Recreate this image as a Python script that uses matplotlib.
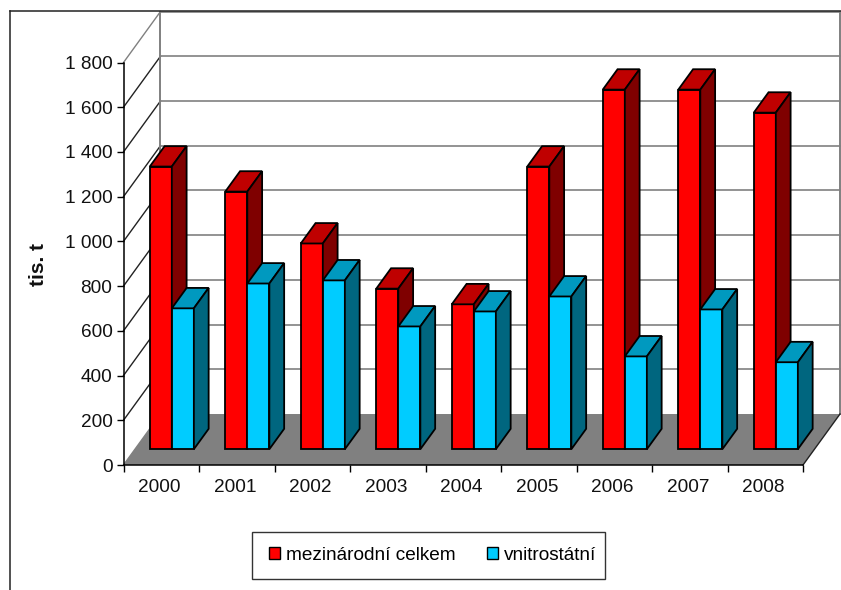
import matplotlib
matplotlib.use('Agg')
import matplotlib.pyplot as plt
from matplotlib.lines import Line2D
from matplotlib.patches import Patch, Polygon, Rectangle

plt.rcParams['font.family'] = ['Liberation Sans', 'DejaVu Sans']

years = ['2000', '2001', '2002', '2003', '2004', '2005', '2006', '2007', '2008']
mezinarodni = [1264, 1152, 920, 718, 648, 1264, 1608, 1608, 1505]
vnitrostatni = [630, 741, 755, 549, 616, 683, 415, 625, 389]
y_ticks = [0, 200, 400, 600, 800, 1000, 1200, 1400, 1600, 1800]
y_labels = ['0', '200', '400', '600', '800', '1 000', '1 200', '1 400', '1 600', '1 800']
names = ['mezinárodní celkem', 'vnitrostátní']

W, H = 841, 590
FONT = 13.7

# 3D look: how far the back wall is shifted, in data units
WALL_DX = 0.49
WALL_DY = 228
BAR_DEPTH_START = 0.31
BAR_DEPTH_END = 0.71
BAR_W = 0.292

RED = ('#FF0000', '#BF0000', '#7F0000')
BLUE = ('#00CCFF', '#0099BF', '#00667F')


def shift(x, v, d):
    return (x + d * WALL_DX, v + d * WALL_DY)


def draw_bar(ax, left, value, colors, z):
    a = BAR_DEPTH_START
    b = BAR_DEPTH_END
    right = left + BAR_W
    front = [shift(left, 0, a), shift(right, 0, a), shift(right, value, a), shift(left, value, a)]
    top = [shift(left, value, a), shift(right, value, a), shift(right, value, b), shift(left, value, b)]
    side = [shift(right, 0, a), shift(right, 0, b), shift(right, value, b), shift(right, value, a)]
    for pts, c in zip([front, top, side], colors):
        ax.add_patch(Polygon(pts, closed=True, facecolor=c, edgecolor='black',
                             linewidth=1.3, joinstyle='miter', clip_on=False, zorder=z))


fig = plt.figure(figsize=(W / 100, H / 100), dpi=100)
ax = fig.add_axes([123.5 / W, (H - 465) / H, (803 - 123.5) / W, (465 - 62.5) / H])
ax.patch.set_alpha(0)
ax.set_xlim(0, len(years))
ax.set_ylim(0, 1800)

# chart frame
fig.add_artist(Line2D([10 / W, 10 / W], [0, 1 - 11 / H], color='#222222', lw=1.1))
fig.add_artist(Line2D([10 / W, 1], [1 - 11 / H, 1 - 11 / H], color='#222222', lw=1.1))

n = len(years)
# floor
ax.add_patch(Polygon([shift(0, 0, 0), shift(n, 0, 0), shift(n, 0, 1), shift(0, 0, 1)], closed=True,
                     facecolor='#808080', edgecolor='none', clip_on=False, zorder=1))
ax.plot(*zip(shift(n, 0, 0), shift(n, 0, 1)), color='#222222', lw=1, clip_on=False, zorder=1.5)

# walls and gridlines
for t in y_ticks:
    col = '#808080' if t == y_ticks[-1] or t == 0 else '#222222'
    ax.plot(*zip(shift(0, t, 0), shift(0, t, 1)), color=col, lw=1, clip_on=False, zorder=1.2)
    if t > 0:
        ax.plot(*zip(shift(0, t, 1), shift(n, t, 1)), color='#808080', lw=1.2, clip_on=False, zorder=1.2)
for x in [0, n]:
    ax.plot(*zip(shift(x, 0, 1), shift(x, 1800, 1)), color='#808080', lw=1.4, clip_on=False, zorder=1.2)

# bars
for i in range(n):
    left = i + 0.488 - BAR_W
    draw_bar(ax, left, mezinarodni[i], RED, 3 + i * 0.1)
    draw_bar(ax, left + BAR_W, vnitrostatni[i], BLUE, 3.05 + i * 0.1)

for s in ['top', 'right']:
    ax.spines[s].set_visible(False)
for s in ['left', 'bottom']:
    ax.spines[s].set_linewidth(1.1)
    ax.spines[s].set_zorder(6)

ax.set_yticks(y_ticks)
ax.set_yticklabels(y_labels, fontsize=FONT, color='#111111')
ax.set_xticks(range(n + 1))
ax.set_xticklabels([])
ax.set_xticks([i + 0.475 for i in range(n)], minor=True)
ax.set_xticklabels(years, minor=True, fontsize=FONT, color='#111111')
ax.tick_params(axis='x', which='minor', length=0, pad=10)
ax.tick_params(axis='x', which='major', length=5, width=1)
ax.tick_params(axis='y', length=5, width=1, pad=3)

fig.text(39 / W, 1 - 264 / H, 'tis. t', rotation=90, fontsize=15, fontweight='bold',
         ha='center', va='center', color='#111111')

# legend box has more room on the left than on the right, so it is drawn apart
fig.add_artist(Rectangle((252 / W, 1 - 579 / H), (605 - 252) / W, (579 - 532) / H, transform=fig.transFigure,
                         facecolor='white', edgecolor='#333333', linewidth=1))
handles = [Patch(facecolor=RED[0], edgecolor='black', linewidth=1),
           Patch(facecolor=BLUE[0], edgecolor='black', linewidth=1)]
leg = fig.legend(handles, names, loc='center left', bbox_to_anchor=(268.5 / W, 1 - 555.5 / H), ncol=2,
                 fontsize=FONT, frameon=False, handlelength=0.6, handleheight=0.6, handletextpad=0.32,
                 columnspacing=1.63, borderpad=0, borderaxespad=0)

fig.savefig('out.png', dpi=100)
